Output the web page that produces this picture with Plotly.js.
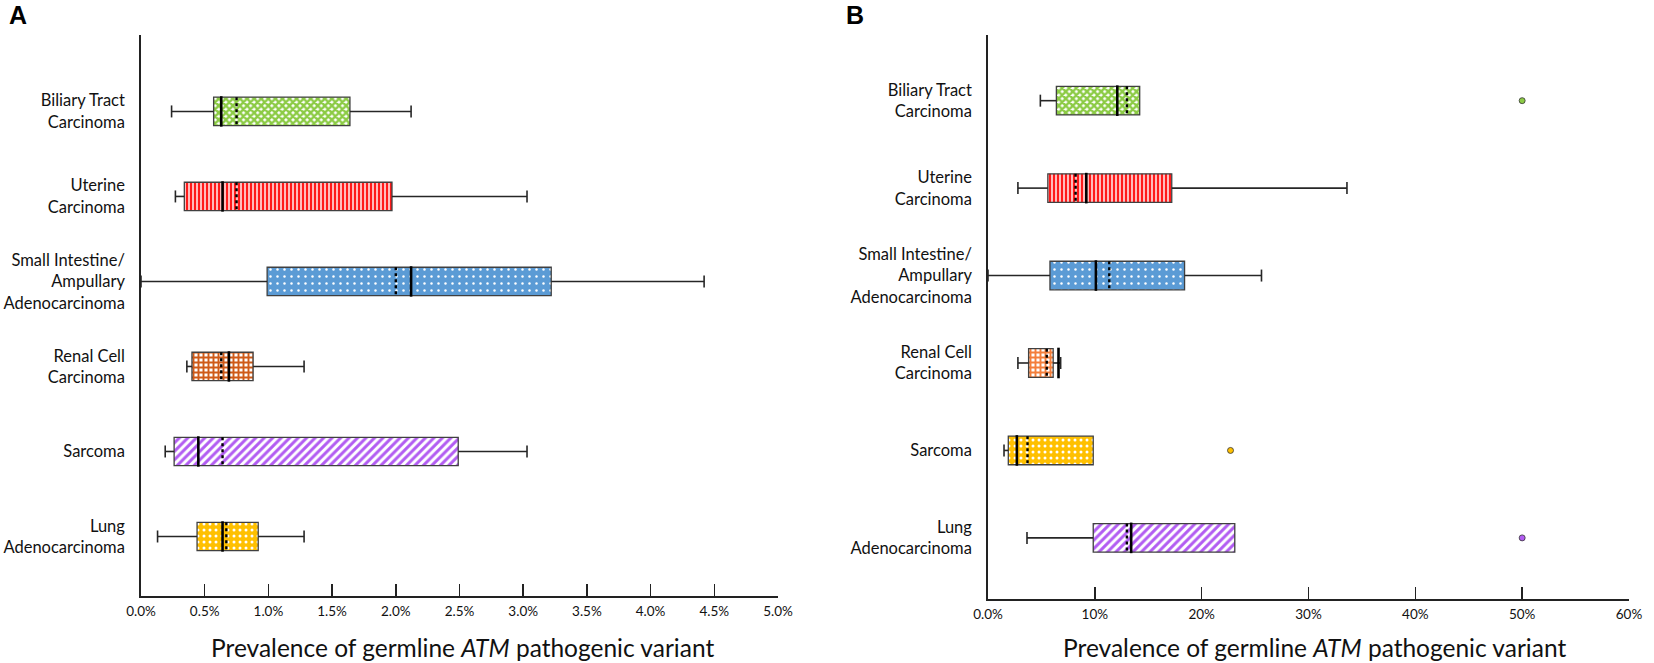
<!DOCTYPE html>
<html>
<head>
<meta charset="utf-8">
<script src="https://cdn.plot.ly/plotly-3.0.1.min.js"></script>
<style>html,body{margin:0;padding:0;background:#fff;}#chart{width:1654px;height:663px;}</style>
</head>
<body>
<div id="chart"></div>
<script>
// ---------------- DATA ----------------
const categories = [
  "Biliary Tract<br>Carcinoma",
  "Uterine<br>Carcinoma",
  "Small Intestine/<br>Ampullary<br>Adenocarcinoma",
  "Renal Cell<br>Carcinoma",
  "Sarcoma",
  "Lung<br>Adenocarcinoma"
];

// Panel A (values in %)
const aLowerFence = [0.24, 0.27, 0.00, 0.36, 0.19, 0.13];
const aQ1         = [0.57, 0.34, 0.99, 0.40, 0.26, 0.44];
const aMedian     = [0.63, 0.64, 2.12, 0.69, 0.45, 0.64];
const aMean       = [0.75, 0.75, 2.00, 0.63, 0.64, 0.67];
const aQ3         = [1.64, 1.97, 3.22, 0.88, 2.49, 0.92];
const aUpperFence = [2.12, 3.03, 4.42, 1.28, 3.03, 1.28];
const aTickValues = [0, 0.5, 1, 1.5, 2, 2.5, 3, 3.5, 4, 4.5, 5];
const aTickLabels = ["0.0%", "0.5%", "1.0%", "1.5%", "2.0%", "2.5%", "3.0%", "3.5%", "4.0%", "4.5%", "5.0%"];

// Panel B (values in %)
const bLowerFence = [4.9, 2.8, 0.0, 2.8, 1.5, 3.65];
const bQ1         = [6.4, 5.6, 5.8, 3.8, 1.9, 9.85];
const bMedian     = [12.1, 9.2, 10.1, 6.6, 2.7, 13.4];
const bMean       = [13.0, 8.2, 11.35, 5.5, 3.7, 13.0];
const bQ3         = [14.2, 17.2, 18.4, 6.1, 9.85, 23.1];
const bUpperFence = [14.2, 33.6, 25.6, 6.8, 9.85, 23.1];
const bOutlierCategory = ["Biliary Tract<br>Carcinoma", "Sarcoma", "Lung<br>Adenocarcinoma"];
const bOutlierValue    = [50.0, 22.7, 50.0];
const bTickValues = [0, 10, 20, 30, 40, 50, 60];
const bTickLabels = ["0.0%", "10%", "20%", "30%", "40%", "50%", "60%"];

const xTitle = "Prevalence of germline <i>ATM</i> pathogenic variant";

// ---------------- STYLES ----------------
const GREEN = {shape: "x", fg: "#8CCB45", bg: "#ffffff", size: 5, solidity: 0.72};
const RED   = {shape: "|", fg: "#FF1A1A", bg: "#ffffff", size: 4, solidity: 0.65};
const BLUE  = {shape: ".", fg: "#ffffff", bg: "#5B9BD5", size: 7, solidity: 0.1};
const ORANGE_A = {shape: "+", fg: "#CF5A18", bg: "#ffffff", size: 5, solidity: 0.62};
const ORANGE_B = {shape: "+", fg: "#F47E3A", bg: "#ffffff", size: 5, solidity: 0.62};
const PURPLE = {shape: "/", fg: "#B25CF2", bg: "#ffffff", size: 6, solidity: 0.5};
const YELLOW = {shape: ".", fg: "#ffffff", bg: "#FFC000", size: 6, solidity: 0.2};
const fillsA = [GREEN, RED, BLUE, ORANGE_A, PURPLE, YELLOW];
const fillsB = [GREEN, RED, BLUE, ORANGE_B, YELLOW, PURPLE];
const outlierColorsB = ["#8CCB45", "#FFC000", "#B25CF2"];

const FONT = "Lato, 'Open Sans', sans-serif";
const W = 1654, H = 663;

function panelTraces(xa, ya, low, q1, med, mean, q3, high, fills, halfH, pxPerUnit) {
  const idx = categories.map((c, i) => i);
  const capH = 6 / pxPerUnit;
  const medH = halfH + 1 / pxPerUnit;
  const traces = [];
  idx.forEach(i => {
    const f = fills[i];
    traces.push({
      type: "bar", orientation: "h", xaxis: xa, yaxis: ya,
      y: [i], base: [q1[i]], x: [q3[i] - q1[i]], width: 2 * halfH,
      marker: {
        color: f.bg,
        pattern: {shape: f.shape, fgcolor: f.fg, bgcolor: f.bg, size: f.size,
                  solidity: f.solidity, fillmode: "replace"},
        line: {color: "#404040", width: 1.3}
      },
      hoverinfo: "skip", showlegend: false
    });
  });
  const wx = [], wy = [];
  idx.forEach(i => {
    if (low[i] < q1[i]) {
      wx.push(low[i], q1[i], null); wy.push(i, i, null);
      wx.push(low[i], low[i], null); wy.push(i - capH, i + capH, null);
    }
    if (high[i] > q3[i]) {
      wx.push(q3[i], high[i], null); wy.push(i, i, null);
      wx.push(high[i], high[i], null); wy.push(i - capH, i + capH, null);
    }
  });
  traces.push({type: "scatter", mode: "lines", xaxis: xa, yaxis: ya, x: wx, y: wy,
    line: {color: "#262626", width: 1.6}, hoverinfo: "skip", showlegend: false});
  const mx = [], my = [], ax = [], ay = [];
  idx.forEach(i => {
    mx.push(med[i], med[i], null); my.push(i - medH, i + medH, null);
    ax.push(mean[i], mean[i], null); ay.push(i - halfH, i + halfH, null);
  });
  traces.push({type: "scatter", mode: "lines", xaxis: xa, yaxis: ya, x: mx, y: my,
    line: {color: "#000000", width: 2.6}, hoverinfo: "skip", showlegend: false});
  traces.push({type: "scatter", mode: "lines", xaxis: xa, yaxis: ya, x: ax, y: ay,
    line: {color: "#000000", width: 2.4, dash: "dot"}, hoverinfo: "skip", showlegend: false});
  return traces;
}

// geometry (pixels)
const axTop = 35, aBottom = 596, bBottom = 599;
const aPx = 85.0, bPx = 87.44;
const aHalf = 14.2 / aPx, bHalf = 14.3 / bPx;

const data = []
  .concat(panelTraces("x", "y", aLowerFence, aQ1, aMedian, aMean, aQ3, aUpperFence, fillsA, aHalf, aPx))
  .concat(panelTraces("x2", "y2", bLowerFence, bQ1, bMedian, bMean, bQ3, bUpperFence, fillsB, bHalf, bPx));

data.push({
  type: "scatter", mode: "markers", xaxis: "x2", yaxis: "y2",
  x: bOutlierValue, y: bOutlierCategory.map(c => categories.indexOf(c)),
  marker: {color: outlierColorsB, size: 6, line: {color: "#333", width: 0.8}},
  hoverinfo: "skip", showlegend: false
});

const idxAll = categories.map((c, i) => i);
function xAxis(range, dom, anchor, tv, tt) {
  return {
    domain: dom, range: range, anchor: anchor, showgrid: false, zeroline: false,
    showline: true, linecolor: "#222", linewidth: 1.8,
    ticks: "inside", ticklen: 12, tickwidth: 1.5, tickcolor: "#222",
    tickvals: tv, ticktext: tt, ticklabelstandoff: 2,
    tickfont: {family: FONT, size: 13.5, color: "#111"}, fixedrange: true
  };
}
function yAxis(range, dom, anchor) {
  return {
    domain: dom, range: range, anchor: anchor, showgrid: false, zeroline: false,
    showline: true, linecolor: "#222", linewidth: 1.8, ticks: "",
    tickvals: idxAll, ticktext: categories, ticklabelstandoff: 11,
    tickfont: {family: FONT, size: 16.5, color: "#111"}, fixedrange: true
  };
}

const layout = {
  width: W, height: H, margin: {l: 0, r: 0, t: 0, b: 0},
  paper_bgcolor: "#fff", plot_bgcolor: "rgba(0,0,0,0)",
  font: {family: FONT}, barmode: "overlay", showlegend: false,
  xaxis: xAxis([0, 5], [141 / W, 778 / W], "y", aTickValues, aTickLabels),
  yaxis: yAxis([5.70, -0.899], [1 - aBottom / H, 1 - axTop / H], "x"),
  xaxis2: xAxis([0, 60], [988 / W, 1629 / W], "y2", bTickValues, bTickLabels),
  yaxis2: yAxis([5.699, -0.751], [1 - bBottom / H, 1 - axTop / H], "x2"),
  annotations: [
    {text: xTitle, xref: "paper", yref: "paper", x: 462 / W, y: 1 - 647 / H,
     xanchor: "center", yanchor: "middle", showarrow: false,
     font: {family: FONT, size: 24.5, color: "#111"}},
    {text: xTitle, xref: "paper", yref: "paper", x: 1314 / W, y: 1 - 647 / H,
     xanchor: "center", yanchor: "middle", showarrow: false,
     font: {family: FONT, size: 24.5, color: "#111"}},
    {text: "<b>A</b>", xref: "paper", yref: "paper", x: 18 / W, y: 1 - 15 / H,
     xanchor: "center", yanchor: "middle", showarrow: false,
     font: {family: "'Liberation Sans', Arial, sans-serif", size: 25, color: "#000"}},
    {text: "<b>B</b>", xref: "paper", yref: "paper", x: 855 / W, y: 1 - 15 / H,
     xanchor: "center", yanchor: "middle", showarrow: false,
     font: {family: "'Liberation Sans', Arial, sans-serif", size: 25, color: "#000"}}
  ]
};

Plotly.newPlot("chart", data, layout, {displayModeBar: false, staticPlot: true});
</script>
</body>
</html>
